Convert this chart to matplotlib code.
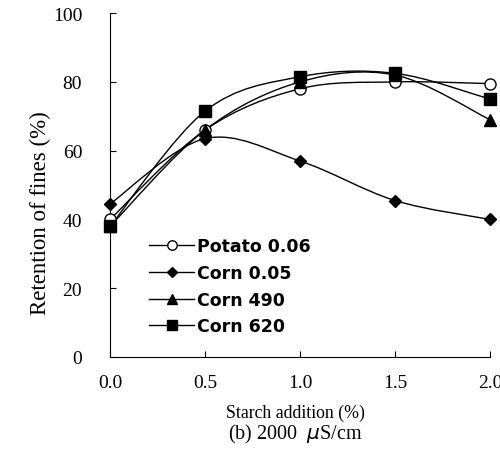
import matplotlib
matplotlib.use("Agg")
import matplotlib.pyplot as plt
from matplotlib.path import Path
from matplotlib.patches import PathPatch
from matplotlib.lines import Line2D

# starch addition (%)
starch = [0.0, 0.5, 1.0, 1.5, 2.0]

# retention of fines (%)
potato_006 = [40, 66, 78, 80, 79.5]
corn_005 = [44.5, 63.5, 57, 45.5, 40]
corn_490 = [38, 66, 80, 82, 69]
corn_620 = [38, 71.5, 81.5, 82.5, 75]

series = [
    ("Potato 0.06", potato_006, dict(marker="o", mfc="white", ms=8)),
    ("Corn 0.05", corn_005, dict(marker="D", mfc="black", ms=6.5)),
    ("Corn 490", corn_490, dict(marker="^", mfc="black", ms=9)),
    ("Corn 620", corn_620, dict(marker="s", mfc="black", ms=8.5)),
]


def smooth_path(x, y):
    """Catmull-Rom curve through the points, as cubic Bezier segments."""
    pts = list(zip(x, y))
    verts = [pts[0]]
    codes = [Path.MOVETO]
    n = len(pts)
    for i in range(n - 1):
        p0 = pts[i - 1] if i > 0 else pts[i]
        p1, p2 = pts[i], pts[i + 1]
        p3 = pts[i + 2] if i + 2 < n else pts[i + 1]
        c1 = (p1[0] + (p2[0] - p0[0]) / 6, p1[1] + (p2[1] - p0[1]) / 6)
        c2 = (p2[0] - (p3[0] - p1[0]) / 6, p2[1] - (p3[1] - p1[1]) / 6)
        verts += [c1, c2, p2]
        codes += [Path.CURVE4] * 3
    return Path(verts, codes)


fig = plt.figure(figsize=(5, 4.56), dpi=100)
ax = fig.add_axes([0.22, 0.215, 0.76, 0.754])

handles = []
for label, vals, style in series:
    ax.add_patch(PathPatch(smooth_path(starch, vals), fill=False,
                           edgecolor="black", lw=1.0, zorder=2))
    ax.plot(starch, vals, ls="none", color="black", mec="black", mew=1.0,
            zorder=3, clip_on=False, **style)
    leg_style = dict(style, ms=style["ms"] * 0.85)
    handles.append(Line2D([], [], color="black", lw=1.0, mec="black",
                          label=label, **leg_style))

ax.set_xlim(0, 2.0)
ax.set_ylim(0, 100)
ax.set_xticks(starch)
ax.set_xticklabels(["0.0", "0.5", "1.0", "1.5", "2.0"])
ax.set_yticks([0, 20, 40, 60, 80, 100])
ax.spines["top"].set_visible(False)
ax.spines["right"].set_visible(False)
ax.tick_params(direction="in", length=4, width=0.8, pad=12,
               labelsize=14)
ax.tick_params(axis="y", pad=20)
for t in ax.get_xticklabels() + ax.get_yticklabels():
    t.set_fontfamily("Liberation Serif")

ax.set_ylabel("Retention of fines (%)", family="Liberation Serif",
              fontsize=16.5)
ax.yaxis.set_label_coords(-0.155, 0.42)
ax.set_xlabel("Starch addition (%)", family="Liberation Serif",
              fontsize=12.8)
ax.xaxis.set_label_coords(0.487, -0.135)
fig.text(0.59, 0.048, "(b) 2000  $\\mu$S/cm", family="Liberation Serif",
         fontsize=14.5, ha="center", va="center")

ax.legend(handles=handles, loc="center left", bbox_to_anchor=(0.085, 0.205),
          frameon=False, handlelength=2.6, handletextpad=0.15,
          labelspacing=0.5, borderaxespad=0,
          prop={"family": "DejaVu Sans", "weight": "bold", "size": 12.5})

fig.savefig("out.png", dpi=100)
